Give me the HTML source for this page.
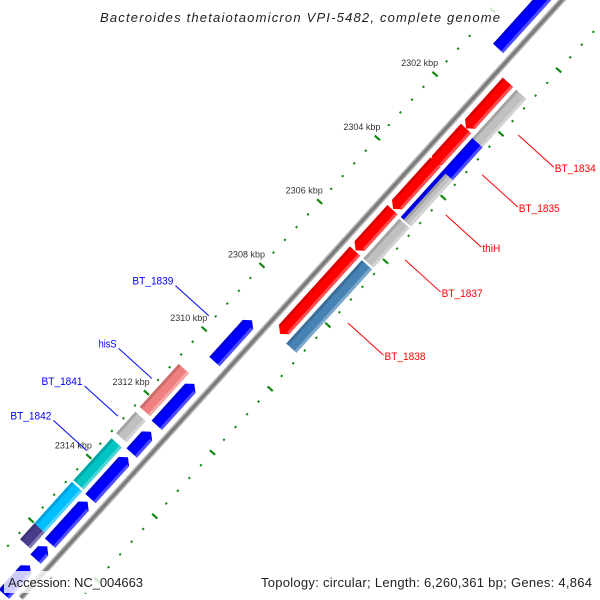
<!DOCTYPE html>
<html><head><meta charset="utf-8">
<style>
html,body{margin:0;padding:0;background:#fff;width:600px;height:600px;overflow:hidden;}
svg{display:block;font-family:"Liberation Sans",sans-serif;overflow:hidden;}
</style></head>
<body>
<svg id="map" width="600" height="600" viewBox="0 0 600 600" xmlns="http://www.w3.org/2000/svg">
<defs><clipPath id="frame"><rect x="0" y="0" width="600" height="600"/></clipPath></defs>
<rect x="0" y="0" width="600" height="600" fill="#fff"/>
<g clip-path="url(#frame)">
<g id="ticks"></g>
<g id="backbone"></g>
<g id="features"></g>
<g id="labels"></g>
</g>
<rect x="96" y="6" width="408" height="22" fill="#fff" fill-opacity="0.8"/>
<text x="100" y="22" font-size="13" font-style="italic" fill="#222" textLength="400" lengthAdjust="spacing">Bacteroides thetaiotaomicron VPI-5482, complete genome</text>
<rect x="4" y="571" width="143" height="22" fill="#fff" fill-opacity="0.8"/>
<text x="8" y="587" font-size="13" fill="#222" textLength="135" lengthAdjust="spacing">Accession: NC_004663</text>
<rect x="257" y="571" width="340" height="22" fill="#fff" fill-opacity="0.8"/>
<text x="261" y="587" font-size="13" fill="#222" textLength="331" lengthAdjust="spacing">Topology: circular; Length: 6,260,361 bp; Genes: 4,864</text>
</svg>
<script>
// feature data (kbp)
var featStart = [2298.0, 2309.1, 2311.1, 2312.6, 2313.4, 2314.8, 2316.2, 2316.8,
                 2301.0, 2302.45, 2303.5, 2305.0, 2306.3,
                 2311.0, 2312.5, 2313.33, 2314.7, 2316.0,
                 2301.0, 2302.52, 2303.55, 2305.05, 2306.35];
var featEnd   = [2300.57, 2310.4, 2312.4, 2313.27, 2314.7, 2316.1, 2316.6, 2317.7,
                 2302.45, 2303.6, 2304.98, 2306.28, 2308.9,
                 2312.35, 2313.17, 2314.65, 2316.0, 2316.5,
                 2302.52, 2305.0, 2305.0, 2306.3, 2308.97];
var featTrack = ["fwd","fwd","fwd","fwd","fwd","fwd","fwd","fwd",
                 "rev","rev","rev","rev","rev",
                 "cogOut","cogOut","cogOut","cogOut","cogOut",
                 "cogIn","cogIn","cogInHalf","cogIn","cogIn"];
var featColor = ["#0000ff","#0000ff","#0000ff","#0000ff","#0000ff","#0000ff","#0000ff","#0000ff",
                 "#ff0000","#ff0000","#ff0000","#ff0000","#ff0000",
                 "#f08080","#c0c0c0","#00c4c4","#00bfff","#483d8b",
                 "#c0c0c0","#0000ff","#c0c0c0","#c0c0c0","#4682b4"];
var tickLabelKbp = [2302, 2304, 2306, 2308, 2310, 2312, 2314];
var labelNames = ["BT_1834","BT_1835","thiH","BT_1837","BT_1838","BT_1839","hisS","BT_1841","BT_1842"];
var labelKbp   = [2301.75, 2303.0, 2304.26, 2305.67, 2307.65, 2309.7, 2311.67, 2312.85, 2313.93];
var labelSide  = ["in","in","in","in","in","out","out","out","out"];

var NS = "http://www.w3.org/2000/svg";
var B0 = [468, 104], PX = 43;
var D = [-0.671, 0.741], N = [-0.741, -0.671];
function P(k, r) { var s = (k - 2302) * PX; return [B0[0] + s * D[0] + r * N[0], B0[1] + s * D[1] + r * N[1]]; }
function mk(tag, attrs, parent) { var e = document.createElementNS(NS, tag); for (var a in attrs) e.setAttribute(a, attrs[a]); parent.appendChild(e); return e; }
function pts(a) { return a.map(function (p) { return p[0].toFixed(1) + "," + p[1].toFixed(1); }).join(" "); }

// backbone
var bb = document.getElementById("backbone");
var b1 = P(2296.5, 0), b2 = P(2317.5, 0);
var l1 = mk("line", {x1: b1[0], y1: b1[1], x2: b2[0], y2: b2[1], stroke: "#b4b4b4", "stroke-width": 6}, bb);


var l2 = mk("line", {x1: b1[0], y1: b1[1], x2: b2[0], y2: b2[1], stroke: "#7a7a7a", "stroke-width": 3}, bb);



// ticks
var tg = document.getElementById("ticks");
for (var i = 0; i <= 60; i++) {
  var k = 2296.0 + i * 0.4;
  var major = Math.abs(Math.round(k / 2) * 2 - k) < 0.01;
  [1, -1].forEach(function (sg) {
    var a = P(k, sg * (major ? 41 : 43.5)), b = P(k, sg * (major ? 48 : 45.5));
    if (Math.max(a[1], b[1]) > 598 || Math.min(a[0], b[0]) < 0 || Math.max(a[0], b[0]) > 600 || Math.min(a[1], b[1]) < 0) return;
    var t = mk("line", {x1: a[0], y1: a[1], x2: b[0], y2: b[1], stroke: "#138a13", "stroke-width": 2.2}, tg);
    
    
  });
}
tickLabelKbp.forEach(function (k) {
  var p = P(k, 43);
  var t = mk("text", {x: p[0] + 2, y: p[1] - 9, "font-size": 9, fill: "#333", "text-anchor": "end"}, tg);
  t.textContent = k + " kbp";
  
  
});

// features
var fg = document.getElementById("features");
var radii = {fwd: [8, 22], rev: [-8, -22], cogOut: [26, 40], cogIn: [-26, -40], cogInHalf: [-30, -40]};
var AH = 6 / PX;
for (var j = 0; j < featStart.length; j++) {
  var tr = featTrack[j], r = radii[tr], s = featStart[j], e = featEnd[j];
  var ro = Math.max(r[0], r[1]), ri = Math.min(r[0], r[1]), rm = (ro + ri) / 2;
  var poly;
  if (tr === "fwd") {
    poly = [P(s, rm), P(s + AH, ro), P(e, ro), P(e, ri), P(s + AH, ri)];
  } else if (tr === "rev") {
    poly = [P(s, ro), P(e - AH, ro), P(e, rm), P(e - AH, ri), P(s, ri)];
  } else {
    poly = [P(s, ro), P(e, ro), P(e, ri), P(s, ri)];
  }
  var g = mk("g", {}, fg);
  
  
  mk("polygon", {points: pts(poly), fill: featColor[j]}, g);
  var s2 = (tr === "fwd") ? s + AH : s, e2 = (tr === "rev") ? e - AH : e;
  var dark = mk("polygon", {points: pts([P(s2, ro), P(e2, ro), P(e2, ro - 3), P(s2, ro - 3)]), fill: "#000", "fill-opacity": 0.15}, g);
  
  
  var light = mk("polygon", {points: pts([P(s2, ri + 3), P(e2, ri + 3), P(e2, ri), P(s2, ri)]), fill: "#fff", "fill-opacity": 0.3}, g);
  
  
}

// labels
var lg = document.getElementById("labels");
labelNames.forEach(function (nm, i) {
  var k = labelKbp[i];
  var inner = labelSide[i] === "in";
  var a = inner ? P(k, -58) : P(k, 50), b = inner ? P(k, -106) : P(k, 95);
  var col = inner ? "#ff0000" : "#0000ff";
  var ln = mk("line", {x1: a[0], y1: a[1], x2: b[0], y2: b[1], stroke: col, "stroke-width": 1}, lg);
  
  
  var w = nm.length > 4 ? 41 : 18;
  var t = mk("text", inner ? {x: b[0] + 1, y: b[1] + 5, "font-size": 11, fill: col, textLength: w, lengthAdjust: "spacingAndGlyphs"}
                           : {x: b[0] - 2 - w, y: b[1] - 1, "font-size": 11, fill: col, textLength: w, lengthAdjust: "spacingAndGlyphs"}, lg);
  t.textContent = nm;
  
  
});
</script>
</body></html>
